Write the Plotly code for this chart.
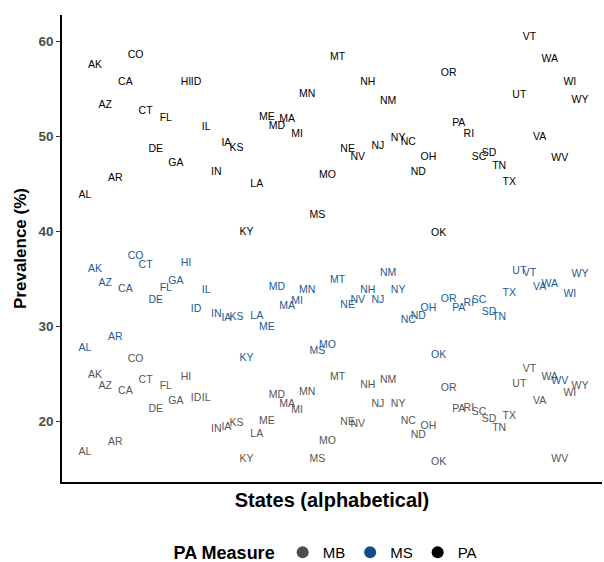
import plotly.graph_objects as go

# States in alphabetical order of their full names
states = ["AL", "AK", "AZ", "AR", "CA", "CO", "CT", "DE", "FL", "GA",
          "HI", "ID", "IL", "IN", "IA", "KS", "KY", "LA", "ME", "MD",
          "MA", "MI", "MN", "MS", "MO", "MT", "NE", "NV", "NH", "NJ",
          "NM", "NY", "NC", "ND", "OH", "OK", "OR", "PA", "RI", "SC",
          "SD", "TN", "TX", "UT", "VT", "VA", "WA", "WV", "WI", "WY"]
state_order = list(range(1, len(states) + 1))

pa_values = [43.7, 57.4, 53.2, 45.5, 55.7, 58.5, 52.6, 48.6, 51.9, 47.1,
             55.6, 55.6, 50.9, 46.2, 49.2, 48.7, 39.9, 44.9, 52.0, 51.0,
             51.8, 50.2, 54.4, 41.6, 45.9, 58.3, 48.6, 47.8, 55.6, 48.9,
             53.7, 49.7, 49.3, 46.2, 47.8, 39.8, 56.6, 51.3, 50.2, 47.7,
             48.2, 46.8, 45.1, 54.3, 60.4, 49.9, 58.1, 47.6, 55.7, 53.8]

ms_values = [27.6, 36.0, 34.5, 28.8, 33.9, 37.3, 36.4, 32.7, 34.0, 34.7,
             36.6, 31.8, 33.8, 31.2, 30.8, 30.9, 26.6, 31.0, 29.9, 34.1,
             32.1, 32.6, 33.8, 27.3, 28.0, 34.8, 32.2, 32.7, 33.7, 32.7,
             35.5, 33.8, 30.6, 31.0, 31.9, 26.9, 32.8, 31.9, 32.4, 32.7,
             31.4, 30.9, 33.4, 35.8, 35.5, 34.1, 34.4, 24.2, 33.3, 35.4]

mb_values = [16.7, 24.8, 23.6, 17.8, 23.1, 26.5, 24.3, 21.2, 23.6, 22.1,
             24.6, 22.4, 22.4, 19.1, 19.3, 19.7, 16.0, 18.6, 20.0, 22.7,
             21.8, 21.1, 23.0, 16.0, 17.9, 24.6, 19.9, 19.6, 23.8, 21.8,
             24.3, 21.8, 20.0, 18.5, 19.4, 15.6, 23.4, 21.2, 21.3, 20.9,
             20.2, 19.2, 20.5, 23.9, 25.4, 22.1, 24.6, 16.0, 22.9, 23.6]

measures = ["MB", "MS", "PA"]
series = {"MB": mb_values, "MS": ms_values, "PA": pa_values}
text_colors = {"MB": "#555555", "MS": "#1C5A96", "PA": "#000000"}
legend_colors = {"MB": "#4D4D4D", "MS": "#104E8B", "PA": "#000000"}

y_ticks = [20, 30, 40, 50, 60]

fig = go.Figure()

for m in measures:
    fig.add_trace(go.Scatter(
        x=state_order, y=series[m], text=states, mode="text",
        textposition="middle center",
        textfont=dict(family="Liberation Sans, Arial, sans-serif", size=10.5,
                      color=text_colors[m]),
        showlegend=False, hoverinfo="text+y", name=m))

for m in measures:
    fig.add_trace(go.Scatter(
        x=[None], y=[None], mode="markers", name=m,
        marker=dict(color=legend_colors[m], size=9, symbol="circle"),
        showlegend=True))

fig.update_layout(
    width=604, height=562,
    margin=dict(l=62, r=2, t=15, b=80, autoexpand=False),
    paper_bgcolor="white", plot_bgcolor="white",
    font=dict(family="Liberation Sans, Arial, sans-serif", color="black"),
    showlegend=True,
    legend=dict(
        orientation="h", x=0.49, xanchor="center", y=-0.152, yanchor="middle",
        title=dict(text="<b>PA Measure</b>", font=dict(size=18, color="black"),
                   side="left"),
        font=dict(size=15, color="black"),
        itemsizing="constant", tracegroupgap=0, itemwidth=30,
    ),
    xaxis=dict(
        range=[-1.277, 52.18], showticklabels=False, ticks="",
        showgrid=False, zeroline=False, automargin=False,
        showline=True, linecolor="black", linewidth=1.5,
        title=dict(text="<b>States (alphabetical)</b>",
                   font=dict(size=20, color="black"), standoff=10),
    ),
    yaxis=dict(
        range=[13.58, 62.74], tickvals=y_ticks,
        ticktext=[f"<b>{v}</b>" for v in y_ticks],
        tickfont=dict(size=13.5, color="#4D4D4D"),
        ticks="outside", ticklen=4, tickcolor="#333333", tickwidth=1,
        showgrid=False, zeroline=False, automargin=False,
        showline=True, linecolor="black", linewidth=1.5,
        title=dict(text="<b>Prevalence (%)</b>",
                   font=dict(size=17, color="black"), standoff=8),
    ),
)

fig.write_html("out.html",
               config={"displayModeBar": False},
               post_script="document.body.style.margin='0';"
                           "document.body.style.padding='0';")
